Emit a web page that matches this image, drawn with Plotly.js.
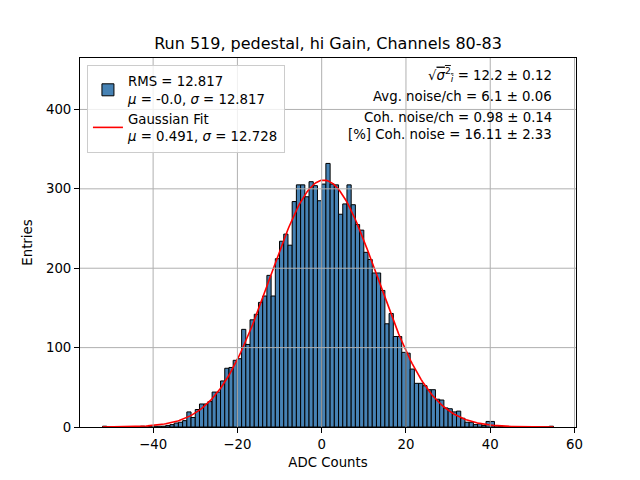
<!DOCTYPE html>
<html>
<head>
<meta charset="utf-8">
<script src="https://cdn.plot.ly/plotly-3.0.1.min.js"></script>
<style>
  body { margin: 0; background: #fff; }
  #chart { width: 640px; height: 480px; }
</style>
</head>
<body>
<div id="chart"></div>
<script>
// histogram bins (left edge, width 1) and entries per bin
const binLeft = [
  -52, -51, -50, -49, -48, -47, -46, -45, -44, -43, -42, -41, -40, -39, -38, -37, -36, -35,
  -34, -33, -32, -31, -30, -29, -28, -27, -26, -25, -24, -23, -22, -21, -20, -19, -18, -17,
  -16, -15, -14, -13, -12, -11, -10, -9, -8, -7, -6, -5, -4, -3, -2, -1,
  0, 1, 2, 3, 4, 5, 6, 7, 8, 9, 10, 11, 12, 13, 14, 15, 16, 17, 18, 19,
  20, 21, 22, 23, 24, 25, 26, 27, 28, 29, 30, 31, 32, 33, 34, 35, 36, 37, 38, 39,
  40, 41, 42, 43, 44, 45, 46, 47, 48, 49, 50, 51, 52, 53, 54
];
const entries = [
  1, 0, 0, 0, 0, 0, 0, 0, 0, 1, 0, 1, 1, 1, 1, 2, 3, 5,
  6, 8, 19, 12, 22, 29, 29, 32, 44, 44, 58, 74, 75, 84, 86, 123, 104, 135,
  142, 157, 165, 191, 165, 212, 234, 243, 229, 284, 305, 305, 290, 309, 304, 285,
  306, 332, 306, 305, 268, 281, 305, 280, 255, 248, 220, 211, 194, 194, 172, 130, 143, 114, 114, 94,
  93, 73, 55, 55, 52, 47, 47, 35, 34, 24, 23, 19, 20, 11, 6, 6, 3, 4, 2, 7,
  7, 0, 1, 0, 0, 0, 0, 0, 0, 0, 0, 0, 0, 0, 1
];
const binWidth = 1;

// gaussian fit parameters (from the legend) and the range it is drawn on
const fitMu = 0.491;
const fitSigma = 12.728;
const fitAmp = 311;
const fitRange = [-52, 55];

const xTicks = [-40, -20, 0, 20, 40, 60];
const yTicks = [0, 100, 200, 300, 400];

const statLines = [
  '√<span style="text-decoration:overline"><i>σ</i><sup>2</sup><sub><i>i</i></sub></span> = 12.2 ± 0.12',
  'Avg. noise/ch = 6.1 ± 0.06',
  'Coh. noise/ch = 0.98 ± 0.14',
  '[%] Coh. noise = 16.11 ± 2.33'
];
const statY = [0.955, 0.897, 0.840, 0.793];

const FONT = "DejaVu Sans, sans-serif";

// curve from fit parameters
const fitX = [], fitY = [];
for (let i = 0; i <= 300; i++) {
    const x = fitRange[0] + (fitRange[1] - fitRange[0]) * i / 300;
    fitX.push(x);
    fitY.push(fitAmp * Math.exp(-0.5 * ((x - fitMu) / fitSigma) ** 2));
}

const histTrace = {
    type: "bar",
    x: binLeft.map(b => b + binWidth / 2),
    y: entries,
    width: binWidth,
    name: "RMS = 12.817<br><i>μ</i> = -0.0, <i>σ</i> = 12.817",
    marker: {color: "#4682b4", line: {color: "#000", width: 1}},
    hoverinfo: "x+y"
};

const fitTrace = {
    type: "scatter",
    mode: "lines",
    x: fitX,
    y: fitY,
    name: "Gaussian Fit<br><i>μ</i> = 0.491, <i>σ</i> = 12.728",
    line: {color: "#ff0000", width: 1.6}
};

const yMax = Math.max(...entries) * 1.4;

// grid is drawn over the bars, like the reference
const gridShapes = [
    ...xTicks.map(t => ({
        type: "line", xref: "x", yref: "paper", x0: t, x1: t, y0: 0, y1: 1,
        line: {color: "#b0b0b0", width: 1}, layer: "above"
    })),
    ...yTicks.filter(t => t > 0).map(t => ({
        type: "line", xref: "paper", yref: "y", x0: 0, x1: 1, y0: t, y1: t,
        line: {color: "#b0b0b0", width: 1}, layer: "above"
    }))
];

const axisStyle = {
    showline: true, mirror: true, linecolor: "#000", linewidth: 1,
    ticks: "outside", ticklen: 5, tickwidth: 1, tickcolor: "#000",
    showgrid: false, zeroline: false,
    tickfont: {size: 13.3, family: FONT, color: "#000"}
};

const layout = {
    width: 640, height: 480,
    margin: {l: 80, r: 64, t: 57.6, b: 52.8},
    paper_bgcolor: "#fff", plot_bgcolor: "#fff",
    font: {family: FONT, color: "#000"},
    title: {
        text: "Run 519, pedestal, hi Gain, Channels 80-83",
        font: {size: 16, family: FONT, color: "#000"},
        x: 0.5, xref: "paper", y: 1 - 43 / 480, yref: "container", yanchor: "middle"
    },
    bargap: 0,
    showlegend: true,
    legend: {
        x: 0.014, y: 0.981, xanchor: "left", yanchor: "top",
        bgcolor: "rgba(255,255,255,0.8)", bordercolor: "#cccccc", borderwidth: 1,
        font: {size: 13.3, family: FONT, color: "#000"},
        tracegroupgap: 0
    },
    xaxis: Object.assign({}, axisStyle, {
        range: [-57.35, 60.35],
        tickvals: xTicks,
        title: {text: "ADC Counts", font: {size: 13.3, family: FONT, color: "#000"}, standoff: 6}
    }),
    yaxis: Object.assign({}, axisStyle, {
        range: [0, yMax],
        tickvals: yTicks,
        title: {text: "Entries", font: {size: 13.3, family: FONT, color: "#000"}, standoff: 10}
    }),
    shapes: gridShapes,
    annotations: statLines.map((txt, i) => ({
        text: txt, xref: "paper", yref: "paper", x: 0.956, y: statY[i],
        xanchor: "right", yanchor: "middle", showarrow: false,
        font: {size: 13.3, family: FONT, color: "#000"}
    }))
};

Plotly.newPlot("chart", [histTrace, fitTrace], layout, {staticPlot: true});
</script>
</body>
</html>
